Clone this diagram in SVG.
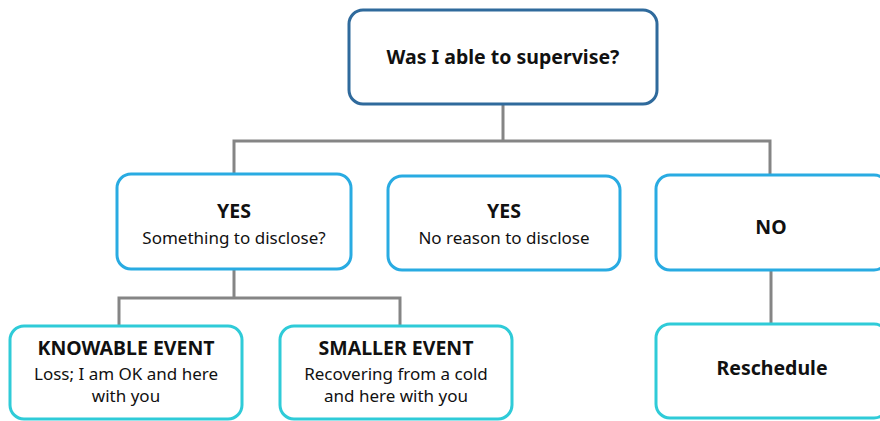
<svg xmlns="http://www.w3.org/2000/svg" width="880" height="421" viewBox="0 0 880 421">
  <style>
    .box { fill: #ffffff; stroke-width: 3; }
    .root { stroke: #2f6a9c; }
    .mid { stroke: #29abe2; }
    .leaf { stroke: #2fcbd8; }
    .link { fill: none; stroke: #858585; stroke-width: 3; }
    text { font-family: "Noto Sans", "Open Sans", sans-serif; fill: #111111; text-anchor: middle; }
    .b { font-weight: bold; font-size: 19.5px; }
    .r { font-size: 17px; }
  </style>
  <g id="connectors">
    <path class="link" d="M503 104 V141 M234 175 V141 H770 V175"/>
    <path class="link" d="M234 268 V298"/>
    <path class="link" d="M119 326 V298 H400 V326"/>
    <path class="link" d="M771 269 V324"/>
  </g>
  <g id="root">
    <rect class="box root" x="349" y="10" width="308" height="94" rx="14"/>
    <text class="b" x="503" y="64">Was I able to supervise?</text>
  </g>
  <g id="yes-disclose">
    <rect class="box mid" x="117" y="174" width="234" height="95" rx="14"/>
    <text class="b" x="234" y="218">YES</text>
    <text class="r" x="234" y="244">Something to disclose?</text>
  </g>
  <g id="yes-no-reason">
    <rect class="box mid" x="388" y="176" width="232" height="94" rx="14"/>
    <text class="b" x="504" y="218">YES</text>
    <text class="r" x="504" y="244">No reason to disclose</text>
  </g>
  <g id="no">
    <rect class="box mid" x="656" y="175" width="232" height="95" rx="14"/>
    <text class="b" x="771" y="234">NO</text>
  </g>
  <g id="knowable-event">
    <rect class="box leaf" x="10" y="326" width="232" height="93" rx="14"/>
    <text class="b" x="126" y="355">KNOWABLE EVENT</text>
    <text class="r" x="126" y="380">Loss; I am OK and here</text>
    <text class="r" x="126" y="402">with you</text>
  </g>
  <g id="smaller-event">
    <rect class="box leaf" x="280" y="326" width="232" height="93" rx="14"/>
    <text class="b" x="396" y="355">SMALLER EVENT</text>
    <text class="r" x="396" y="380">Recovering from a cold</text>
    <text class="r" x="396" y="402">and here with you</text>
  </g>
  <g id="reschedule">
    <rect class="box leaf" x="656" y="324" width="232" height="94" rx="14"/>
    <text class="b" x="772" y="375">Reschedule</text>
  </g>
</svg>
